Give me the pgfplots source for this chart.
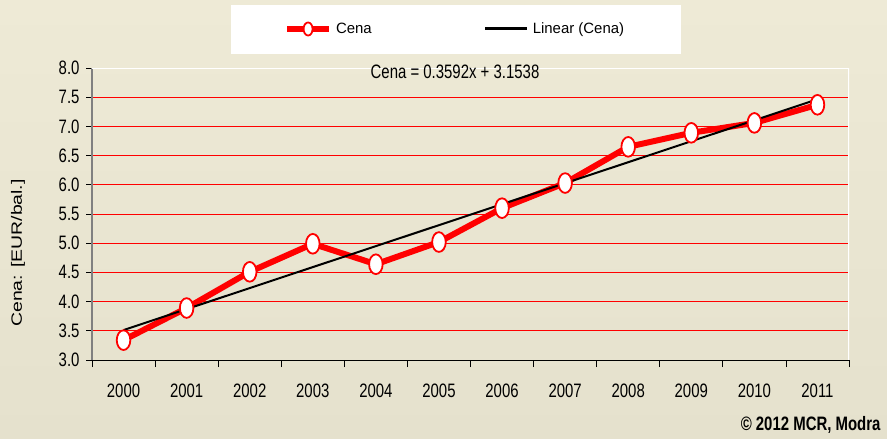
\documentclass[border=0pt]{standalone}
\usepackage{pgfplots}
\pgfplotsset{compat=1.18}
\usepackage{fontspec}
\setmainfont{Liberation Sans}
\definecolor{bgtop}{RGB}{238,234,214}
\definecolor{bgbot}{RGB}{229,225,205}
\definecolor{axgray}{RGB}{128,128,128}
\newcommand{\tf}{\fontsize{15}{18}\selectfont}
\pgfplotsset{
  redlegend/.style={legend image code/.code={
    \draw[mark repeat=2, mark phase=2, ##1, line width=6bp, mark size=4.5bp]
      plot coordinates {(0bp,0bp) (21bp,0bp) (42bp,0bp)};}},
  blacklegend/.style={legend image code/.code={
    \draw[##1, line width=3bp] (0bp,0bp) -- (42bp,0bp);}},
}
\begin{document}
\begin{tikzpicture}
\shade[top color=bgtop,bottom color=bgbot] (0bp,0bp) rectangle (887bp,439bp);
\fill[white] (231bp,385bp) rectangle (681bp,434bp);
\begin{axis}[
  at={(92bp,79bp)}, anchor=south west,
  scale only axis, width=757bp, height=292bp,
  xmin=-0.5, xmax=11.5, ymin=3, ymax=8,
  axis x line*=bottom, axis y line*=left,
  x axis line style={black, line width=1bp},
  y axis line style={axgray, line width=1.5bp},
  xtick={0,...,11},
  xticklabels={2000,2001,2002,2003,2004,2005,2006,2007,2008,2009,2010,2011},
  minor xtick={-0.5,0.5,...,11.5},
  major x tick style={draw=none},
  minor x tick style={black, line width=0.8bp},
  minor tick length=7bp,
  major tick length=6bp,
  tick align=outside,
  ytick={3,3.5,...,8},
  ytick style={black, line width=0.8bp},
  ymajorgrids,
  grid style={red, line width=1bp},
  /pgf/number format/assume math mode=true,
  y tick label style={/pgf/number format/.cd, fixed, fixed zerofill, precision=1, /tikz/.cd},
  tick label style={font=\tf, yscale=1.3},
  xticklabel style={yshift=-10bp},
  yticklabel style={xshift=-3bp},
  legend columns=2,
  legend style={draw=none, fill=none, at={(0.481,1.1336)}, anchor=center, font=\tf,
    nodes={inner xsep=4bp},
    /tikz/every even column/.append style={column sep=108bp}},
]
\addplot[red, line width=6bp, mark=*, mark size=6.8bp,
  mark options={fill=white, draw=red, line width=1.8bp, yscale=1.45}, redlegend]
coordinates {
(0,3.34) (1,3.89) (2,4.51) (3,4.99) (4,4.64) (5,5.02)
(6,5.60) (7,6.03) (8,6.65) (9,6.89) (10,7.06) (11,7.37)
};
\addlegendentry{Cena}
\addplot[black, line width=2bp, blacklegend]
coordinates {(0,3.5130) (11,7.4642)};
\addlegendentry{Linear (Cena)}
\draw[white, line width=2bp] (rel axis cs:0,1) -- (rel axis cs:1,1) -- (rel axis cs:1,0);
\end{axis}
\node[font=\tf, yscale=1.3] at (455bp,367bp) {Cena = 0.3592x + 3.1538};
\node[font=\tf, rotate=90, xscale=1.3] at (18bp,186bp) {Cena: [EUR/bal.]};
\node[anchor=east, font=\bfseries\tf, yscale=1.3] at (884bp,14bp) {© 2012 MCR, Modra};
\end{tikzpicture}
\end{document}
